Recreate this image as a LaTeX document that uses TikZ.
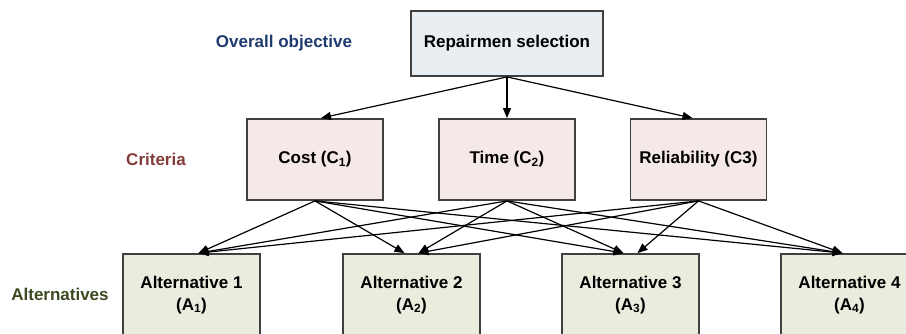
\documentclass[tikz,border=0pt]{standalone}
\usepackage{fontspec}
\setmainfont{Liberation Sans}
\usetikzlibrary{arrows.meta}
\definecolor{bordergray}{HTML}{404040}
\definecolor{topfill}{HTML}{E9EEF3}
\definecolor{critfill}{HTML}{F5E9E7}
\definecolor{altfill}{HTML}{EAEDDD}
\definecolor{objblue}{HTML}{1F3A6E}
\definecolor{critred}{HTML}{843C39}
\definecolor{altolive}{HTML}{3C4A22}
\begin{document}
\begin{tikzpicture}[x=1pt,y=1pt,
  box/.style={draw=bordergray, line width=1.8pt, rectangle, inner sep=0pt,
    font=\fontsize{17}{22}\selectfont\bfseries, align=center},
  topbox/.style={box, fill=topfill, minimum width=192pt, minimum height=65pt},
  critbox/.style={box, fill=critfill, minimum width=136pt, minimum height=81pt},
  altbox/.style={box, fill=altfill, minimum width=137pt, minimum height=82pt},
  levellabel/.style={font=\fontsize{17}{22}\selectfont\bfseries},
  arr/.style={-{Triangle[length=10pt,width=8pt]}, line width=1.2pt, black}]
\useasboundingbox (0,0) rectangle (906,-334);
\clip (0,0) rectangle (906,-334);
% level labels
\node[levellabel, text=objblue] (lobj) at (284,-43) {Overall objective};
\node[levellabel, text=critred] (lcrit) at (156,-159) {Criteria};
\node[levellabel, text=altolive] (lalt) at (60,-294) {Alternatives};
% nodes
\node[topbox] (top) at (507,-43.5) {Repairmen selection};
\node[critbox] (c1) at (315,-159.5) {Cost (C\textsubscript{1})};
\node[critbox] (c2) at (507,-159.5) {Time (C\textsubscript{2})};
\node[critbox] (c3) at (698.5,-159.5) {Reliability (C3)};
\node[altbox] (a1) at (191.5,-295) {Alternative 1\\(A\textsubscript{1})};
\node[altbox] (a2) at (411.5,-295) {Alternative 2\\(A\textsubscript{2})};
\node[altbox] (a3) at (630.5,-295) {Alternative 3\\(A\textsubscript{3})};
\node[altbox] (a4) at (849.5,-295) {Alternative 4\\(A\textsubscript{4})};
% top arrows
\draw[arr] (top.south) -- ([xshift=6pt]c1.north);
\draw[arr] (top.south) -- (c2.north);
\draw[arr] (top.south) -- ([xshift=-6pt]c3.north);
% criteria to alternatives
\draw[arr] (c1.south) -- ([xshift=7pt]a1.north);
\draw[arr] (c1.south) -- ([xshift=-7pt]a2.north);
\draw[arr] (c1.south) -- ([xshift=-7pt]a3.north);
\draw[arr] (c1.south) -- ([xshift=-7pt]a4.north);
\draw[arr] (c2.south) -- ([xshift=7pt]a1.north);
\draw[arr] (c2.south) -- ([xshift=7pt]a2.north);
\draw[arr] (c2.south) -- ([xshift=-7pt]a3.north);
\draw[arr] (c2.south) -- ([xshift=-7pt]a4.north);
\draw[arr] (c3.south) -- ([xshift=7pt]a1.north);
\draw[arr] (c3.south) -- ([xshift=7pt]a2.north);
\draw[arr] (c3.south) -- ([xshift=7pt]a3.north);
\draw[arr] (c3.south) -- ([xshift=-7pt]a4.north);
\end{tikzpicture}
\end{document}
